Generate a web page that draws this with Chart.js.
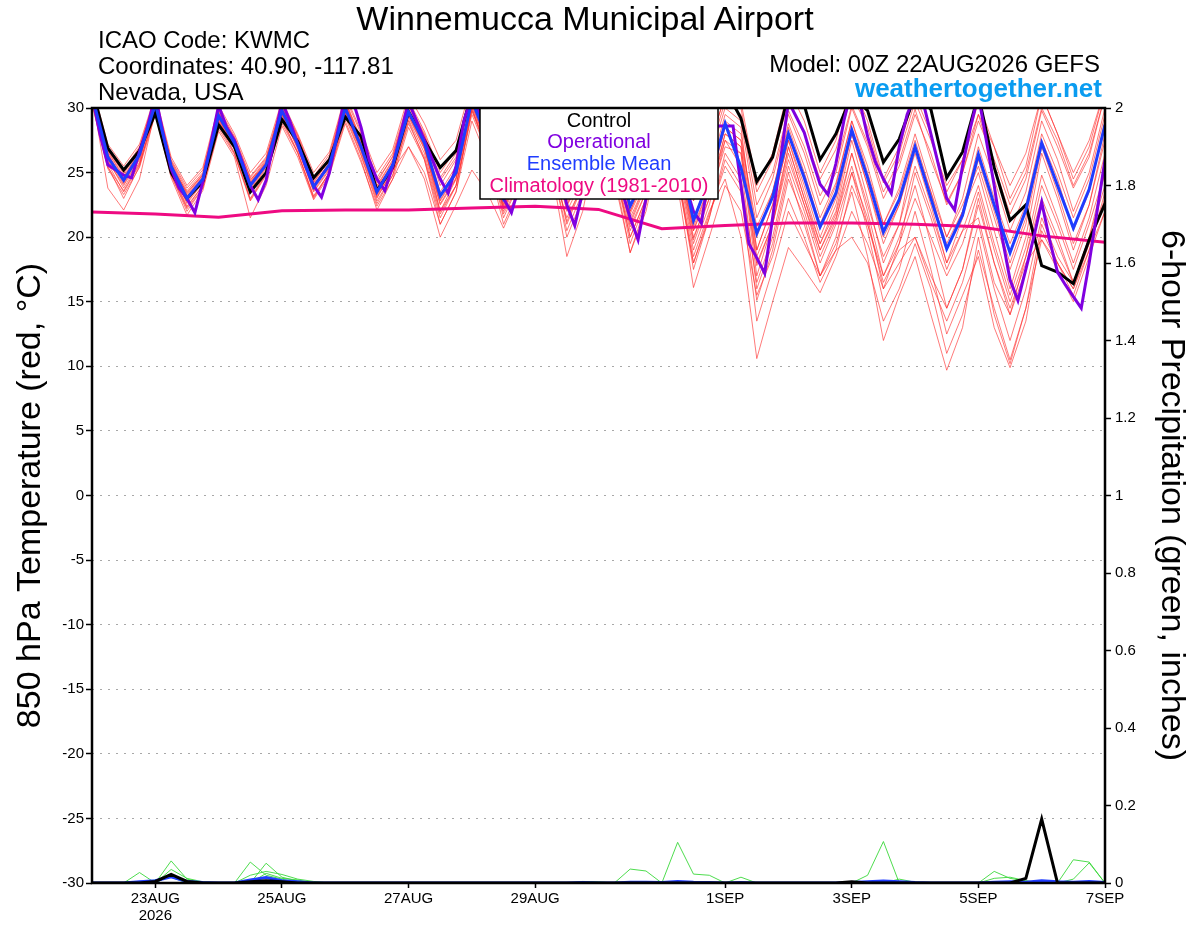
<!DOCTYPE html>
<html>
<head>
<meta charset="utf-8">
<title>Winnemucca Municipal Airport - GEFS 850 hPa temperature</title>
<script src="https://cdn.jsdelivr.net/npm/chart.js@4.4.1/dist/chart.umd.min.js"></script>
<style>
  body { margin: 0; background: #fff; }
  #wrap { position: relative; width: 1200px; height: 927px; font-family: 'Liberation Sans', Arial, sans-serif; }
  #myChart { position: absolute; left: 0; top: 0; }
  .hd { position: absolute; white-space: nowrap; line-height: 1; color: #000; }
</style>
</head>
<body>
<div id="wrap">
  <canvas id="myChart" width="1200" height="927"></canvas>
  <div class="hd" style="left:0;width:1170px;text-align:center;top:1px;font-size:34px;">Winnemucca Municipal Airport</div>
  <div class="hd" style="left:98px;top:28px;font-size:24px;">ICAO Code: KWMC</div>
  <div class="hd" style="left:98px;top:54px;font-size:24px;">Coordinates: 40.90, -117.81</div>
  <div class="hd" style="left:98px;top:80px;font-size:24px;">Nevada, USA</div>
  <div class="hd" style="right:100px;top:52px;font-size:24px;">Model: 00Z 22AUG2026 GEFS</div>
  <div class="hd" style="right:98px;top:75px;font-size:26px;font-weight:bold;color:#0a9cf0;">weathertogether.net</div>
</div>
<script>
// GEFS plume: 850 hPa temperature (left axis) and 6-hour precip (right axis)

// x-axis tick positions (hours after 00Z 22AUG) and their labels
const tickHours = [24, 72, 120, 168, 240, 288, 336, 384];
const tickLabels = [['23AUG', '2026'], '25AUG', '27AUG', '29AUG', '1SEP', '3SEP', '5SEP', '7SEP'];

// 6-hourly series, 00Z 22AUG .. 00Z 7SEP (4 values per day + final)
const controlTemp = [
  31.5, 26.9, 25.2, 26.7,  29.6, 25.0, 23.0, 24.3,  28.7, 27.0, 23.5, 25.0,  29.1, 27.4, 24.6, 26.0,
  29.3, 27.8, 23.6, 25.4,  29.7, 27.5, 25.4, 26.7,  31.2, 28.5, 25.0, 27.0,  31.5, 29.0, 26.0, 28.0,
  32.0, 30.0, 27.0, 29.0,  32.0, 31.0, 28.0, 30.5,  31.5, 29.2, 24.3, 26.2,  31.0, 30.2, 26.0, 28.0,
  31.0, 29.8, 25.8, 27.6,  31.0, 29.9, 24.6, 26.6,  31.0, 25.4, 21.3, 22.5,  17.8, 17.3, 16.4, 19.8,
  22.6];
const meanTemp = [
  31.0, 26.2, 24.4, 26.4,  30.3, 25.5, 23.0, 24.5,  29.4, 27.3, 24.0, 25.6,  29.8, 27.2, 23.9, 25.6,
  30.0, 27.0, 23.5, 25.6,  29.7, 27.3, 23.2, 25.0,  30.6, 27.5, 23.0, 25.4,  30.8, 27.6, 23.4, 25.5,
  30.7, 27.2, 22.4, 25.0,  30.2, 27.0, 21.3, 24.5,  28.8, 25.4, 20.3, 23.1,  28.0, 24.6, 20.8, 23.4,
  28.3, 24.6, 20.4, 22.9,  27.0, 23.0, 19.1, 21.7,  26.4, 22.5, 18.8, 22.1,  27.3, 24.0, 20.7, 23.7,
  28.7];

// operational run is 3-hourly (8 values per day + final)
const operTemp = [
  31.0, 28.0, 25.6, 25.2, 24.8, 24.6, 26.6, 28.5,
  31.0, 28.0, 25.3, 23.8, 23.0, 21.9, 24.3, 27.2,
  30.2, 28.5, 27.5, 25.8, 24.0, 22.9, 24.4, 27.5,
  30.5, 29.0, 27.2, 25.5, 24.0, 23.1, 25.0, 28.0,
  31.0, 30.5, 28.5, 26.0, 24.5, 23.6, 25.5, 28.0,
  30.5, 29.0, 27.5, 26.0, 24.5, 23.4, 25.5, 29.0,
  31.0, 29.5, 28.0, 25.0, 23.0, 21.9, 24.0, 27.5,
  30.5, 29.0, 27.5, 25.0, 22.5, 20.9, 23.5, 27.0,
  30.0, 28.0, 26.0, 23.5, 21.5, 19.8, 23.0, 27.0,
  30.0, 28.5, 26.0, 24.0, 22.0, 21.1, 25.0, 28.6,
  28.6, 28.6, 24.0, 19.5, 18.4, 17.2, 21.5, 26.0,
  30.5, 29.3, 28.1, 26.0, 24.1, 23.3, 25.7, 29.0,
  31.5, 30.5, 27.8, 25.8, 24.5, 23.4, 27.0, 29.5,
  31.0, 30.5, 28.0, 25.5, 23.0, 22.1, 25.5, 28.5,
  31.0, 27.5, 24.0, 20.0, 16.7, 15.1, 17.5, 20.0,
  22.7, 19.8, 17.3, 16.3, 15.4, 14.5, 18.0, 22.0,
  26.0];

// climatology, one value per day at 00Z
const climoTemp = [21.95, 21.8, 21.55, 22.05, 22.1, 22.1, 22.25, 22.4, 22.15, 20.65, 20.9, 21.1, 21.1, 21.0, 20.8, 20.1, 19.6];

// ensemble members, 6-hourly
const ens01 = [31.5,26.8,24.9,26.8, 30.8,25.8,23.4,24.9, 29.9,27.6,24.4,26.0, 30.3,27.8,24.4,26.2, 30.6,27.6,24.2,26.3, 30.4,28.0,24.6,26.5, 31.2,28.3,24.3,26.6, 31.5,28.6,24.8,26.9, 31.8,28.9,24.6,27.0, 31.5,29.0,23.8,26.5, 30.5,29.5,22.5,25.0, 29.8,27.0,23.2,25.6, 30.2,27.3,23.5,25.9, 29.9,26.0,22.7,25.0, 29.5,25.5,21.8,24.5, 29.8,27.0,23.8,26.2, 31.0];
const ens02 = [30.6,25.9,24.0,26.0, 30.0,25.2,22.6,24.2, 29.0,26.8,23.6,25.3, 29.5,26.9,23.5,25.2, 29.7,26.6,23.0,25.2, 29.3,26.8,22.5,24.5, 30.2,27.0,22.2,24.8, 30.3,27.0,22.4,24.9, 30.0,26.2,21.0,24.0, 29.2,25.8,19.5,23.0, 27.0,26.5,17.8,21.0, 26.0,22.5,18.5,21.3, 26.5,22.5,18.5,21.0, 25.5,22.0,18.0,20.5, 24.0,19.5,15.5,19.2, 24.8,21.5,18.0,21.5, 26.5];
const ens03 = [30.8,26.5,24.2,26.3, 30.2,25.3,22.8,24.5, 29.2,27.0,23.8,25.5, 29.6,27.0,23.7,25.5, 29.8,26.8,23.2,25.3, 29.5,27.0,22.8,24.8, 30.4,27.2,22.6,25.0, 30.5,27.0,22.0,24.5, 29.8,26.0,20.8,23.5, 28.5,25.0,18.5,22.0, 24.5,20.0,10.6,15.0, 19.2,17.5,15.7,18.5, 22.0,19.5,16.0,18.0, 20.0,16.5,13.5,16.5, 21.0,16.0,12.0,16.0, 21.5,18.5,16.5,19.5, 23.0];
const ens04 = [31.2,26.0,23.8,25.8, 30.5,25.0,22.4,24.0, 29.5,27.2,24.2,25.8, 30.0,27.4,24.0,25.8, 30.2,27.2,23.8,25.7, 29.8,27.0,22.0,24.0, 29.8,26.5,21.5,24.2, 30.0,26.5,21.0,24.0, 29.5,25.5,20.0,23.0, 28.8,25.5,19.0,22.5, 27.5,25.5,16.0,19.5, 25.0,21.0,17.0,19.5, 23.5,18.5,12.0,15.5, 18.5,14.0,9.7,13.0, 20.0,14.0,10.2,14.5, 19.8,17.5,15.0,18.5, 22.0];
const ens05 = [31.0,25.5,23.0,25.5, 30.0,24.8,22.0,23.8, 29.0,26.5,23.0,25.0, 29.2,26.5,23.2,25.0, 29.5,26.4,22.8,24.8, 29.0,26.0,21.0,23.5, 30.0,26.5,21.8,24.2, 29.5,26.0,20.0,23.0, 29.0,25.5,19.5,22.8, 28.5,25.0,17.5,21.5, 26.0,24.0,15.1,19.0, 24.5,21.5,17.0,20.0, 25.0,20.5,15.0,17.5, 22.0,17.5,12.5,15.5, 18.5,13.0,9.9,13.5, 20.5,18.0,16.0,19.0, 23.5];
const ens06 = [31.8,27.2,25.5,27.2, 31.0,26.2,24.0,25.4, 30.2,28.0,25.0,26.5, 30.6,28.0,25.0,26.6, 31.0,28.2,25.0,26.8, 31.0,28.8,26.0,27.5, 32.0,29.5,25.0,27.5, 32.0,29.5,25.0,27.5, 32.0,29.5,25.0,27.8, 32.0,30.0,24.0,27.0, 31.0,30.5,24.0,26.5, 31.5,29.0,25.0,27.5, 32.0,29.0,24.5,27.0, 31.0,28.0,23.5,26.0, 30.5,27.0,23.0,25.5, 31.0,28.0,24.5,27.0, 31.5];
const ens07 = [30.4,25.4,23.6,25.7, 29.6,24.8,22.2,23.8, 28.4,26.4,22.8,24.8, 28.8,26.5,23.0,25.0, 29.0,26.0,22.1,24.5, 28.5,26.0,21.5,24.0, 29.5,26.5,22.5,24.5, 30.0,26.8,22.8,25.0, 30.5,27.0,22.0,24.8, 30.5,27.5,21.0,25.0, 29.5,28.5,19.0,22.5, 27.5,23.5,19.5,22.5, 28.0,24.0,20.0,22.5, 27.0,23.5,20.0,22.5, 25.5,21.5,17.5,21.0, 27.0,23.5,19.5,22.5, 28.0];
const ens08 = [31.0,23.8,22.1,24.5, 29.8,25.5,23.5,24.8, 29.2,27.0,24.5,25.5, 29.4,27.0,24.2,25.3, 29.6,26.8,23.4,25.2, 27.0,24.5,20.0,22.5, 25.2,23.4,20.7,23.5, 28.5,25.5,21.5,24.0, 29.0,25.5,20.5,23.5, 29.5,26.5,20.0,23.0, 28.0,27.0,18.0,21.0, 26.5,22.5,19.0,21.5, 25.5,21.0,16.5,19.0, 20.0,17.0,14.5,17.5, 23.0,18.0,14.0,18.5, 24.0,21.0,17.5,21.0, 25.0];
const ens09 = [31.3,26.6,24.6,26.6, 30.6,25.6,23.2,24.7, 29.7,27.4,24.2,25.8, 30.1,27.6,24.3,26.0, 30.4,27.4,24.0,26.0, 30.2,27.8,24.0,26.0, 31.0,28.0,24.0,26.2, 31.2,28.2,24.2,26.4, 31.4,28.4,23.8,26.4, 31.2,28.5,22.8,26.0, 30.0,29.0,21.5,24.5, 29.5,26.5,22.5,25.0, 30.0,27.0,23.0,25.5, 29.5,26.5,22.5,25.0, 29.0,26.0,22.5,25.0, 30.0,27.5,24.0,26.5, 31.0];
const ens10 = [30.9,26.3,24.3,26.2, 30.3,25.4,22.9,24.4, 29.3,27.1,23.9,25.5, 29.7,27.1,23.8,25.5, 29.9,26.9,23.3,25.4, 29.4,26.9,22.6,24.6, 30.3,27.0,22.0,24.5, 29.5,25.5,18.5,22.0, 28.0,24.5,18.8,22.0, 27.5,24.0,16.1,20.0, 24.0,22.0,15.5,18.5, 23.0,20.0,16.5,19.0, 24.0,21.0,17.0,19.5, 23.0,20.0,17.0,19.5, 23.5,19.0,15.0,18.5, 23.0,20.0,16.5,20.0, 24.0];
const ens11 = [31.1,26.4,24.5,26.5, 30.4,25.7,23.3,24.8, 29.6,27.5,24.3,25.9, 30.0,27.5,24.2,26.0, 30.3,27.3,23.9,25.9, 30.0,27.6,23.5,25.5, 30.8,27.8,23.5,25.8, 31.0,28.0,23.8,26.0, 31.0,27.5,22.5,25.0, 30.5,27.0,21.5,24.5, 29.0,28.0,20.0,23.5, 28.5,25.0,21.0,24.0, 29.0,25.0,21.0,23.5, 27.5,23.5,19.0,22.0, 27.0,23.0,19.5,22.5, 28.0,25.0,21.5,24.5, 29.5];
const ens12 = [30.7,26.1,24.1,26.1, 30.1,25.1,22.7,24.3, 29.1,26.9,23.7,25.4, 29.5,26.8,23.6,25.3, 29.7,26.7,23.1,25.1, 29.1,26.5,22.0,24.5, 30.0,26.8,22.4,24.8, 30.0,26.5,21.2,24.2, 29.0,25.0,18.8,22.5, 28.0,24.5,18.0,21.5, 26.5,24.5,16.5,20.0, 25.5,22.0,18.0,21.0, 25.0,21.5,16.0,19.5, 25.0,21.5,17.5,20.5, 21.5,16.5,14.0,17.5, 22.5,19.5,16.5,20.0, 25.0];
const ens13 = [31.4,26.9,25.0,26.9, 30.9,25.9,23.6,25.0, 30.0,27.8,24.7,26.2, 30.4,27.9,24.7,26.4, 30.8,28.0,24.6,26.5, 30.6,28.2,25.0,26.8, 31.5,28.8,24.8,27.0, 31.8,29.0,25.0,27.2, 32.0,29.0,24.5,27.5, 31.8,29.5,23.5,27.0, 31.0,30.0,23.5,26.0, 30.5,28.0,24.5,26.8, 31.0,28.5,24.2,26.5, 30.5,27.5,24.0,26.0, 29.5,27.0,24.0,26.5, 31.0,28.0,25.0,27.5, 31.5];
const ens14 = [30.5,25.7,23.5,25.6, 29.8,24.9,22.3,24.0, 28.6,26.5,22.9,24.9, 29.0,26.6,23.1,25.0, 29.3,26.3,22.6,24.8, 28.8,26.2,21.8,24.0, 29.8,26.8,22.2,24.5, 30.2,27.0,22.5,24.8, 30.0,26.5,21.5,24.2, 29.5,26.0,20.5,23.5, 28.0,27.0,18.5,21.5, 27.0,23.0,19.0,21.8, 26.5,22.0,17.0,20.0, 24.0,19.5,14.5,17.5, 22.5,18.0,14.5,18.0, 19.8,18.0,16.0,19.5, 22.5];
const ens15 = [31.6,27.0,25.2,27.0, 30.7,26.0,23.8,25.2, 29.8,27.7,24.6,26.1, 30.2,27.7,24.5,26.1, 30.5,27.5,24.4,26.2, 30.3,27.9,24.4,26.2, 31.2,28.2,23.8,26.2, 31.2,28.0,23.0,25.8, 30.8,27.2,22.0,25.0, 30.0,26.5,20.5,24.0, 28.5,27.5,19.0,22.5, 27.5,24.0,20.0,23.0, 28.0,24.0,19.5,22.5, 26.5,22.5,18.0,21.5, 26.0,22.0,18.0,21.5, 27.5,24.5,20.5,23.5, 29.0];
const ens16 = [30.3,25.3,23.3,25.4, 29.5,24.6,21.7,23.6, 28.2,26.2,21.5,24.0, 28.6,26.2,22.9,24.8, 28.8,25.8,22.4,24.5, 27.0,25.0,21.0,23.5, 29.0,26.0,21.0,23.8, 29.0,25.8,20.5,23.5, 29.5,25.5,20.0,23.0, 28.5,25.0,18.0,21.8, 25.5,23.5,13.5,17.5, 22.0,19.5,17.0,19.0, 20.0,18.0,13.5,16.0, 19.5,16.0,11.0,14.0, 19.0,14.5,10.5,14.5, 21.0,18.0,15.5,19.0, 22.0];
const ens17 = [31.2,26.7,24.7,26.7, 30.6,25.6,23.1,24.6, 29.6,27.4,24.1,25.7, 30.0,27.4,24.0,25.8, 30.2,27.1,23.7,25.7, 29.9,27.4,23.2,25.3, 30.6,27.6,23.2,25.5, 30.8,27.6,23.0,25.6, 30.6,27.0,21.8,24.6, 30.0,26.5,20.8,24.0, 28.5,27.5,20.8,23.5, 28.8,25.5,21.5,24.2, 29.0,25.5,21.0,23.8, 28.0,24.0,20.0,23.0, 28.0,24.5,20.5,23.5, 29.0,26.0,22.0,25.0, 30.0];
const ens18 = [30.8,26.2,24.4,26.4, 30.2,25.4,23.1,24.6, 29.4,27.2,24.1,25.7, 29.9,27.3,24.0,25.7, 30.1,27.1,23.6,25.6, 29.6,27.1,22.9,24.9, 30.5,27.3,22.8,25.2, 30.6,27.2,22.6,25.1, 30.2,26.5,21.2,24.2, 29.5,26.0,19.8,23.5, 27.5,26.5,17.0,21.0, 27.0,23.0,19.5,22.0, 27.5,23.0,18.0,21.0, 27.0,23.0,19.5,22.0, 25.0,20.5,16.0,20.0, 26.5,23.0,19.0,22.5, 27.5];
const ensembleTemps = [ens01, ens02, ens03, ens04, ens05, ens06, ens07, ens08, ens09,
                       ens10, ens11, ens12, ens13, ens14, ens15, ens16, ens17, ens18];

// 6-hour precipitation (inches), 8 values per row
const controlPcp = [
  0, 0, 0, 0, 0.004, 0.022, 0.004, 0,   0, 0, 0.003, 0.006, 0.003, 0, 0, 0,
  0, 0, 0, 0, 0, 0, 0, 0,               0, 0, 0, 0, 0, 0, 0, 0,
  0, 0, 0, 0, 0, 0, 0, 0,               0, 0, 0, 0, 0, 0, 0, 0,
  0.003, 0, 0, 0, 0, 0, 0, 0,           0, 0, 0, 0.012, 0.165, 0, 0, 0,
  0];
const meanPcp = [
  0, 0, 0, 0.003, 0.006, 0.016, 0.004, 0.001,   0, 0, 0.008, 0.014, 0.006, 0.003, 0, 0,
  0, 0, 0, 0, 0, 0, 0, 0,                       0, 0, 0, 0, 0, 0, 0, 0.001,
  0, 0, 0.002, 0.002, 0.001, 0.004, 0.002, 0.001,  0, 0.001, 0, 0, 0, 0, 0, 0,
  0.001, 0.003, 0.005, 0.003, 0.001, 0, 0, 0,   0, 0.002, 0.003, 0.002, 0.006, 0.003, 0.002, 0.004,
  0.001];
const pcp01 = [
  0, 0, 0, 0.027, 0, 0, 0, 0,   0, 0, 0, 0, 0, 0, 0, 0,
  0, 0, 0, 0, 0, 0, 0, 0,       0, 0, 0, 0, 0, 0, 0, 0,
  0, 0, 0.036, 0.031, 0, 0.105, 0.023, 0.02,   0, 0.015, 0, 0, 0, 0, 0, 0,
  0, 0, 0, 0, 0, 0, 0, 0,       0, 0, 0, 0, 0, 0, 0, 0,
  0];
const pcp02 = [
  0, 0, 0, 0, 0, 0.057, 0.01, 0,   0, 0, 0, 0, 0, 0, 0, 0,
  0, 0, 0, 0, 0, 0, 0, 0,          0, 0, 0, 0, 0, 0, 0, 0,
  0, 0, 0, 0, 0, 0, 0, 0,          0, 0, 0, 0, 0, 0, 0, 0,
  0, 0.02, 0.107, 0, 0, 0, 0, 0,   0, 0, 0, 0, 0, 0, 0, 0,
  0];
const pcp03 = [
  0, 0, 0, 0, 0, 0.035, 0.012, 0.003,   0, 0, 0.054, 0.02, 0.01, 0, 0, 0,
  0, 0, 0, 0, 0, 0, 0, 0,               0, 0, 0, 0, 0, 0, 0, 0,
  0, 0, 0, 0, 0, 0, 0, 0,               0, 0, 0, 0, 0, 0, 0, 0,
  0, 0, 0, 0, 0, 0, 0, 0,               0, 0, 0, 0, 0, 0, 0, 0,
  0];
const pcp04 = [
  0, 0, 0, 0, 0, 0, 0, 0,          0, 0, 0, 0.051, 0.015, 0.005, 0, 0,
  0, 0, 0, 0, 0, 0, 0, 0,          0, 0, 0, 0, 0, 0, 0, 0,
  0, 0, 0, 0, 0, 0, 0, 0,          0, 0, 0, 0, 0, 0, 0, 0,
  0, 0, 0, 0, 0, 0, 0, 0,          0, 0.03, 0.012, 0.005, 0, 0, 0, 0,
  0];
const pcp05 = [
  0, 0, 0, 0, 0, 0, 0, 0,          0, 0, 0.02, 0.03, 0.022, 0.01, 0.004, 0,
  0, 0, 0, 0, 0, 0, 0, 0,          0, 0, 0, 0, 0, 0, 0, 0,
  0, 0, 0, 0, 0, 0, 0, 0,          0, 0, 0, 0, 0, 0, 0, 0,
  0, 0, 0, 0, 0, 0, 0, 0,          0, 0, 0, 0, 0, 0, 0.06, 0.054,
  0];
const pcp06 = [
  0, 0, 0, 0, 0, 0.02, 0.006, 0,   0, 0, 0, 0, 0, 0, 0, 0,
  0, 0, 0, 0, 0, 0, 0, 0,          0, 0, 0, 0, 0, 0, 0, 0.004,
  0.003, 0, 0, 0, 0, 0, 0, 0,      0, 0, 0, 0, 0, 0, 0, 0,
  0, 0, 0, 0.01, 0.002, 0, 0, 0,   0, 0, 0, 0, 0, 0, 0.01, 0.052,
  0];
const pcp07 = [
  0, 0, 0, 0, 0.008, 0.015, 0, 0,  0, 0, 0, 0.025, 0.012, 0.008, 0, 0,
  0, 0, 0, 0, 0, 0, 0, 0,          0, 0, 0, 0, 0, 0, 0, 0,
  0, 0, 0, 0, 0, 0, 0, 0,          0, 0, 0, 0, 0, 0, 0, 0,
  0, 0, 0.003, 0, 0, 0, 0, 0,      0, 0.012, 0.015, 0.006, 0, 0, 0, 0,
  0];
const ensemblePcp = [pcp01, pcp02, pcp03, pcp04, pcp05, pcp06, pcp07];

// legend entries shown in the white box
const legendEntries = [
  { text: 'Control', color: '#000000' },
  { text: 'Operational', color: '#8000e0' },
  { text: 'Ensemble Mean', color: '#1f3cff' },
  { text: 'Climatology (1981-2010)', color: '#ee0a82' }
];

// time axes (hours after model start)
const hours6 = [];
for (let i = 0; i < controlTemp.length; i++) hours6.push(i * 6);
const hours3 = [];
for (let i = 0; i < operTemp.length; i++) hours3.push(i * 3);
const hours24 = [];
for (let i = 0; i < climoTemp.length; i++) hours24.push(i * 24);

function toPoints(xs, ys) {
  return ys.map((y, i) => ({ x: xs[i], y: y }));
}

function line(data, color, width, axis, order) {
  return {
    data: data, borderColor: color, borderWidth: width, yAxisID: axis, order: order,
    pointRadius: 0, tension: 0, fill: false
  };
}

const datasets = [];
ensembleTemps.forEach(m => datasets.push(line(toPoints(hours6, m), 'rgba(255,45,45,0.8)', 0.8, 'y', 9)));
ensemblePcp.forEach(p => datasets.push(line(toPoints(hours6, p), '#3ad83a', 0.9, 'y2', 8)));
datasets.push(line(toPoints(hours6, meanPcp), '#1f3cff', 3, 'y2', 6));
datasets.push(line(toPoints(hours6, controlPcp), '#000000', 3, 'y2', 5));
datasets.push(line(toPoints(hours24, climoTemp), '#ee0a82', 3, 'y', 4));
datasets.push(line(toPoints(hours6, controlTemp), '#000000', 3, 'y', 3));
datasets.push(line(toPoints(hours3, operTemp), '#8000e0', 3, 'y', 2));
datasets.push(line(toPoints(hours6, meanTemp), '#1f3cff', 3, 'y', 1));

// white legend box and black frame drawn over the lines
const boxPlugin = {
  id: 'boxPlugin',
  afterDatasetsDraw(chart) {
    const { ctx, chartArea: a } = chart;
    ctx.save();
    const bx = a.left + 388, by = a.top, bw = 238, bh = 91;
    ctx.fillStyle = '#fff';
    ctx.fillRect(bx, by, bw, bh);
    ctx.strokeStyle = '#000';
    ctx.lineWidth = 1.5;
    ctx.strokeRect(bx, by, bw, bh);
    ctx.font = '20px "Liberation Sans", Arial, sans-serif';
    ctx.textAlign = 'center';
    ctx.textBaseline = 'middle';
    legendEntries.forEach((e, i) => {
      ctx.fillStyle = e.color;
      ctx.fillText(e.text, bx + bw / 2, by + 13 + i * 21.7);
    });
    ctx.lineWidth = 2.5;
    ctx.strokeRect(a.left, a.top, a.right - a.left, a.bottom - a.top);
    ctx.restore();
  }
};

Chart.defaults.font.family = '"Liberation Sans", Arial, sans-serif';
Chart.defaults.color = '#000';

const ctx = document.getElementById('myChart');
new Chart(ctx, {
  type: 'line',
  data: { datasets: datasets },
  options: {
    responsive: false,
    animation: false,
    devicePixelRatio: 1,
    layout: { padding: { top: 108, left: 0, right: 0, bottom: 0 } },
    plugins: { legend: { display: false }, tooltip: { enabled: false } },
    scales: {
      x: {
        type: 'linear', min: 0, max: 384,
        afterBuildTicks: s => { s.ticks = tickHours.map(v => ({ value: v })); },
        afterFit: s => { s.height = 44; },
        ticks: {
          autoSkip: false, maxRotation: 0, padding: 2,
          font: { size: 15, lineHeight: 1.15 },
          callback: (v, i) => tickLabels[i]
        },
        grid: { drawOnChartArea: false, tickLength: 5, tickColor: '#000', tickWidth: 1.5 },
        border: { display: false }
      },
      y: {
        position: 'left', min: -30, max: 30,
        afterFit: s => { s.width = 92; },
        ticks: { stepSize: 5, padding: 2, font: { size: 15 } },
        grid: { color: '#a8a8a8', lineWidth: 1, tickLength: 6, tickColor: '#000', tickWidth: 1.5, tickBorderDash: [1, 0] },
        border: { display: false, dash: [2, 6] },
        title: {
          display: true, text: '850 hPa Temperature (red, \u00B0C)',
          font: { size: 34 }, padding: { top: 10, bottom: 0 }
        }
      },
      y2: {
        position: 'right', min: 0, max: 2,
        afterFit: s => { s.width = 95; },
        ticks: { stepSize: 0.2, padding: 4, font: { size: 15 }, callback: v => String(Number(v.toFixed(1))) },
        grid: { drawOnChartArea: false, tickLength: 6, tickColor: '#000', tickWidth: 1.5 },
        border: { display: false },
        title: {
          display: true, text: '6-hour Precipitation (green, inches)',
          font: { size: 34 }, padding: { top: 8, bottom: 0 }
        }
      }
    }
  },
  plugins: [boxPlugin]
});
</script>
</body>
</html>
